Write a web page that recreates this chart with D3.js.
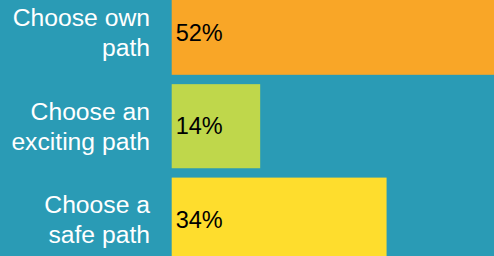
<!DOCTYPE html>
<html>
<head>
<meta charset="utf-8">
<script src="https://cdn.jsdelivr.net/npm/d3@7"></script>
<style>
  html, body { margin: 0; padding: 0; background: #2a9bb5; overflow: hidden; }
  svg { display: block; }
</style>
</head>
<body>
<div id="chart"></div>
<script>
// Chart data
const categories = ['own', 'exciting', 'safe'];
const labelLines = [
    ['Choose own', 'path'],
    ['Choose an', 'exciting path'],
    ['Choose a', 'safe path']
];
const values = [52, 14, 34];
const colors = ['#f9a627', '#bfd74b', '#fedd2d'];

const width = 494;
const height = 256;

const svg = d3.select('#chart')
    .append('svg')
    .attr('width', width)
    .attr('height', height);

svg.append('rect')
    .attr('width', width)
    .attr('height', height)
    .attr('fill', '#2a9bb5');

// The chart is cropped: top and bottom bars run past the frame
const y = d3.scaleBand()
    .domain(categories)
    .range([-9.3, 261.7])
    .paddingInner(0.1);

const x = d3.scaleLinear()
    .domain([0, 100])
    .range([171.7, 171.7 + 632]);

// Bars
svg.selectAll('rect.bar')
    .data(values)
    .enter()
    .append('rect')
    .attr('class', 'bar')
    .attr('x', x(0))
    .attr('y', (d, i) => y(categories[i]))
    .attr('width', d => x(d) - x(0))
    .attr('height', y.bandwidth())
    .attr('fill', (d, i) => colors[i]);

// Value labels inside bars
svg.selectAll('text.value')
    .data(values)
    .enter()
    .append('text')
    .attr('class', 'value')
    .attr('x', x(0) + 4)
    .attr('y', (d, i) => y(categories[i]) + y.bandwidth() / 2)
    .attr('dy', '0.35em')
    .style('font-family', '"Liberation Sans", Arial, sans-serif')
    .style('font-size', '23.5px')
    .attr('fill', '#000')
    .text(d => d + '%');

// Category labels, right aligned, two lines each
const lineHeight = 30;
const labels = svg.selectAll('text.cat')
    .data(labelLines)
    .enter()
    .append('text')
    .attr('class', 'cat')
    .attr('text-anchor', 'end')
    .attr('fill', '#fff')
    .style('font-family', '"Liberation Sans", Arial, sans-serif')
    .style('font-size', '24.7px');

labels.each(function (lines, i) {
    const cy = y(categories[i]) + y.bandwidth() / 2;
    const top = cy - (lines.length - 1) * lineHeight / 2;
    d3.select(this).selectAll('tspan')
        .data(lines)
        .enter()
        .append('tspan')
        .attr('x', 150)
        .attr('y', (d, j) => top + j * lineHeight)
        .attr('dy', '0.35em')
        .text(d => d);
});
</script>
</body>
</html>
